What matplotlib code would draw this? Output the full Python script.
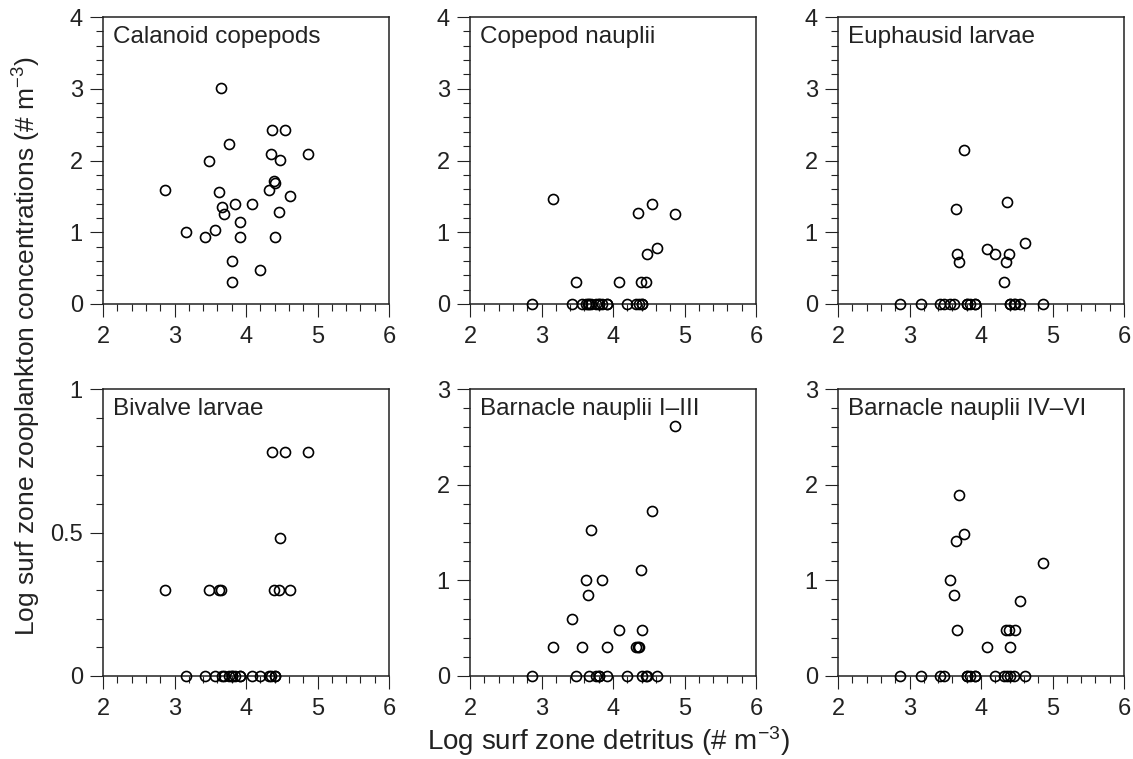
import numpy as np
import matplotlib
matplotlib.use("Agg")
import matplotlib.pyplot as plt
from matplotlib.ticker import MultipleLocator

plt.rcParams['font.family'] = ['Liberation Sans', 'DejaVu Sans']
plt.rcParams['mathtext.fontset'] = 'custom'
plt.rcParams['mathtext.rm'] = 'Liberation Sans'
plt.rcParams['mathtext.it'] = 'Liberation Sans:italic'

# Log surf zone detritus, same samples for every panel
detritus = [2.87, 3.16, 3.43, 3.48, 3.57, 3.62, 3.65, 3.67, 3.69, 3.76,
            3.80, 3.81, 3.84, 3.91, 3.92, 4.08, 4.20, 4.32, 4.35, 4.37,
            4.39, 4.41, 4.41, 4.46, 4.48, 4.55, 4.61, 4.87]

calanoid = [1.59, 1.00, 0.94, 1.99, 1.03, 1.56, 3.01, 1.35, 1.25, 2.23,
            0.30, 0.60, 1.40, 1.14, 0.94, 1.40, 0.48, 1.59, 2.09, 2.43,
            1.71, 1.69, 0.94, 1.28, 2.01, 2.43, 1.51, 2.09]

copepod_nauplii = [0, 1.47, 0, 0.30, 0, 0, 0, 0, 0, 0,
                   0, 0, 0, 0, 0, 0.30, 0, 0, 1.27, 0,
                   0.30, 0, 0, 0.30, 0.69, 1.40, 0.78, 1.26]

euphausid = [0, 0, 0, 0, 0, 0, 1.33, 0.70, 0.59, 2.15,
             0, 0, 0, 0, 0, 0.77, 0.69, 0.30, 0.59, 1.42,
             0.70, 0, 0, 0, 0, 0, 0.85, 0]

bivalve = [0.30, 0, 0, 0.30, 0, 0.30, 0.30, 0, 0, 0,
           0, 0, 0, 0, 0, 0, 0, 0, 0, 0.78,
           0.30, 0, 0, 0.30, 0.48, 0.78, 0.30, 0.78]

barnacle_1_3 = [0, 0.30, 0.60, 0, 0.30, 1.00, 0.85, 0, 1.53, 0,
                0, 0, 1.00, 0, 0.30, 0.48, 0, 0.30, 0.30, 0.30,
                1.11, 0.48, 0, 0, 0, 1.72, 0, 2.61]

barnacle_4_6 = [0, 0, 0, 0, 1.00, 0.85, 1.41, 0.48, 1.89, 1.48,
                0, 0, 0, 0, 0, 0.30, 0, 0, 0.48, 0,
                0.48, 0.30, 0, 0, 0.48, 0.78, 0, 1.18]

titles = ["Calanoid copepods", "Copepod nauplii", "Euphausid larvae",
          "Bivalve larvae", "Barnacle nauplii I\u2013III", "Barnacle nauplii IV\u2013VI"]
series = [calanoid, copepod_nauplii, euphausid, bivalve, barnacle_1_3, barnacle_4_6]
y_max = [4, 4, 4, 1, 3, 3]

fig = plt.figure(figsize=(11.33, 7.59), dpi=100)

W, H = 1133, 759
lefts = [103, 470, 838]
tops = [17, 389]
aw, ah = 286, 287

for i, (title, vals, ym) in enumerate(zip(titles, series, y_max)):
    row, col = divmod(i, 3)
    ax = fig.add_axes([lefts[col] / W, 1 - (tops[row] + ah) / H, aw / W, ah / H])
    ax.plot(detritus, vals, 'o', mfc='none', mec='black', ms=7.2, mew=1.2,
            clip_on=False, zorder=3)
    ax.set_xlim(2, 6)
    ax.set_ylim(0, ym)
    ax.xaxis.set_major_locator(MultipleLocator(1))
    ax.xaxis.set_minor_locator(MultipleLocator(0.2))
    if ym == 1:
        ax.yaxis.set_minor_locator(MultipleLocator(0.1))
        ax.set_yticks([0, 0.5, 1])
        ax.set_yticklabels(["0", "0.5", "1"])
    else:
        ax.yaxis.set_major_locator(MultipleLocator(1))
        ax.yaxis.set_minor_locator(MultipleLocator(0.2))
    ax.tick_params(which='major', direction='out', length=9.5, width=0.8,
                   labelsize=17, colors='#222222')
    ax.tick_params(which='minor', direction='out', length=5, width=0.8,
                   colors='#222222')
    ax.tick_params(axis='x', which='major', pad=6.5)
    ax.tick_params(axis='y', which='major', pad=5)
    for s in ax.spines.values():
        s.set_linewidth(1.1)
        s.set_color('#222222')
    ax.text(0.035, 0.968, title, transform=ax.transAxes, ha='left', va='top',
            fontsize=17.5, color='#222222')

fig.text(608 / W, 1 - 741 / H, r"Log surf zone detritus (# m$^{\mathregular{-3}}$)",
         ha='center', va='center', fontsize=20, color='#222222')
fig.text(27 / W, 1 - 346 / H,
         r"Log surf zone zooplankton concentrations (# m$^{\mathregular{-3}}$)",
         ha='center', va='center', rotation=90, fontsize=19, color='#222222')

fig.savefig("out.png", dpi=100)
